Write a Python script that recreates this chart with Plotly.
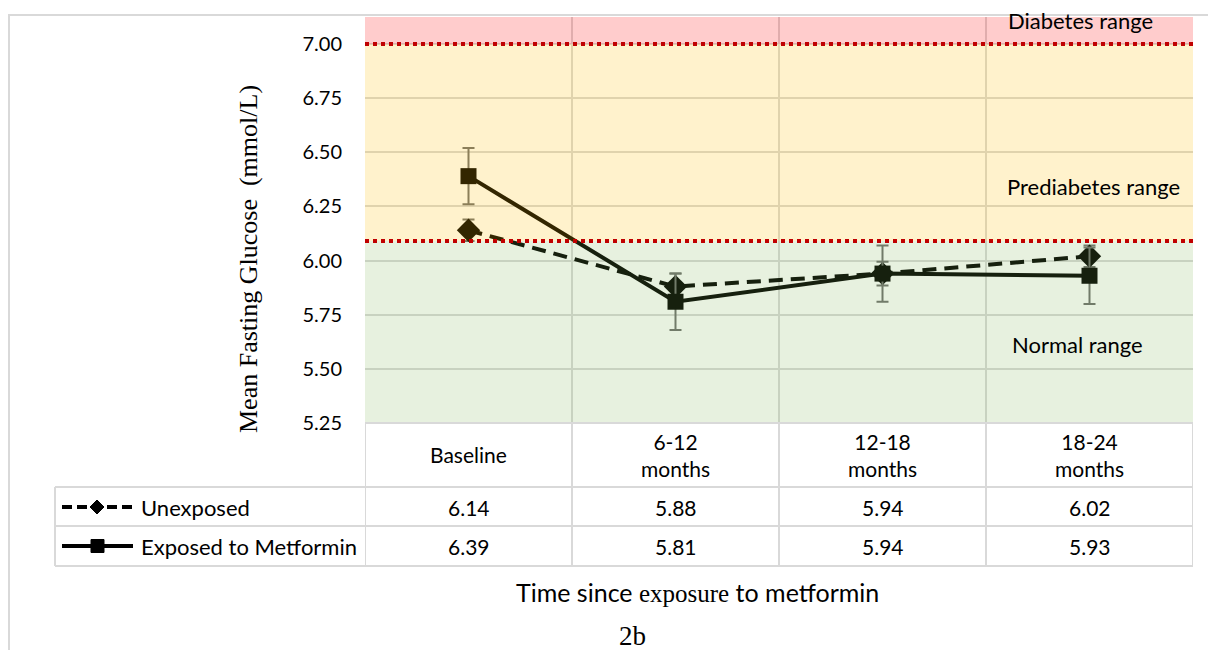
import plotly.graph_objects as go

# ---------------- data ----------------
categories = ["Baseline", "6-12<br>months", "12-18<br>months", "18-24<br>months"]
unexposed = [6.14, 5.88, 5.94, 6.02]
unexposed_err = [0.05, 0.06, 0.055, 0.05]
exposed = [6.39, 5.81, 5.94, 5.93]
exposed_err = [0.13, 0.13, 0.13, 0.13]
series_names = ["Unexposed", "Exposed to Metformin"]
y_ticks = [5.25, 5.50, 5.75, 6.00, 6.25, 6.50, 6.75, 7.00]
prediabetes_min = 6.09
diabetes_min = 7.00
y_top = 7.125

SANS = "Lato, Calibri, Carlito, sans-serif"
SERIF = "Liberation Serif, Times New Roman, serif"
GRID = "#d9d9d9"

# figure geometry (pixels)
W, H = 1208, 650
L, R, T, B = 365, 15, 17, 227
pw, ph = W - L - R, H - T - B


def px(x):
    return (x - L) / pw


def py(y):
    return (H - B - y) / ph


xs = [i + 0.5 for i in range(len(categories))]

fig = go.Figure()
fig.add_trace(go.Scatter(
    x=xs, y=unexposed, name=series_names[0], mode="lines+markers",
    line=dict(color="black", width=4, dash="14px,8px"),
    marker=dict(symbol="diamond", size=18, color="black"),
    error_y=dict(type="data", array=unexposed_err, color="#707070", thickness=2, width=6),
    showlegend=False,
))
fig.add_trace(go.Scatter(
    x=xs, y=exposed, name=series_names[1], mode="lines+markers",
    line=dict(color="black", width=4),
    marker=dict(symbol="square", size=16, color="black"),
    error_y=dict(type="data", array=exposed_err, color="#707070", thickness=2, width=6),
    showlegend=False,
))

shapes = []
# translucent range bands over everything
shapes.append(dict(type="rect", xref="x", yref="y", x0=0, x1=4, y0=diabetes_min, y1=y_top,
                   fillcolor="rgba(255,0,0,0.2)", line_width=0, layer="above"))
shapes.append(dict(type="rect", xref="x", yref="y", x0=0, x1=4, y0=prediabetes_min, y1=diabetes_min,
                   fillcolor="rgba(255,192,0,0.2)", line_width=0, layer="above"))
shapes.append(dict(type="rect", xref="x", yref="y", x0=0, x1=4, y0=5.25, y1=prediabetes_min,
                   fillcolor="rgba(120,180,80,0.18)", line_width=0, layer="above"))
# red dotted thresholds
for yv in (diabetes_min, prediabetes_min):
    shapes.append(dict(type="line", xref="x", yref="y", x0=0, x1=4, y0=yv, y1=yv,
                       line=dict(color="#C00000", width=4, dash="dot"), layer="above"))

# data table lines
row_y = [423, 487, 526, 566]
shapes.append(dict(type="line", xref="paper", yref="paper", x0=0, x1=1, y0=py(423), y1=py(423),
                   line=dict(color=GRID, width=2)))
for yy in row_y[1:]:
    shapes.append(dict(type="line", xref="paper", yref="paper", x0=px(55), x1=1, y0=py(yy), y1=py(yy),
                       line=dict(color=GRID, width=2)))
for i in range(len(categories) + 1):
    shapes.append(dict(type="line", xref="x", yref="paper", x0=i, x1=i, y0=py(423), y1=py(566),
                       line=dict(color=GRID, width=2)))
shapes.append(dict(type="line", xref="paper", yref="paper", x0=px(55), x1=px(55), y0=py(487), y1=py(566),
                   line=dict(color=GRID, width=2)))
# outer frame (top & left)
shapes.append(dict(type="line", xref="paper", yref="paper", x0=px(8), x1=px(1208), y0=py(15), y1=py(15),
                   line=dict(color=GRID, width=2)))
shapes.append(dict(type="line", xref="paper", yref="paper", x0=px(9), x1=px(9), y0=py(15), y1=py(650),
                   line=dict(color=GRID, width=2)))

# legend samples in table
leg_rows = [507, 546]
shapes.append(dict(type="line", xref="paper", yref="paper", x0=px(62), x1=px(133),
                   y0=py(leg_rows[0]), y1=py(leg_rows[0]),
                   line=dict(color="black", width=4, dash="10px,5px")))
shapes.append(dict(type="path", xref="paper", yref="paper",
                   path=f"M {px(90)} {py(leg_rows[0])} L {px(97)} {py(leg_rows[0]-7)} "
                        f"L {px(104)} {py(leg_rows[0])} L {px(97)} {py(leg_rows[0]+7)} Z",
                   fillcolor="black", line=dict(color="black", width=1)))
shapes.append(dict(type="line", xref="paper", yref="paper", x0=px(62), x1=px(133),
                   y0=py(leg_rows[1]), y1=py(leg_rows[1]),
                   line=dict(color="black", width=4)))
shapes.append(dict(type="rect", xref="paper", yref="paper", x0=px(91), x1=px(104),
                   y0=py(leg_rows[1] + 6.5), y1=py(leg_rows[1] - 6.5),
                   fillcolor="black", line=dict(color="black", width=1)))


def note(text, x, y, size, family=SANS, xref="paper", xanchor="center", **kw):
    return dict(text=text, x=x, y=y, xref=xref, yref="paper", xanchor=xanchor, yanchor="middle",
                showarrow=False, font=dict(family=family, size=size, color="black"), **kw)


ann = []
# range labels
ann.append(note("Diabetes range", px(1080), py(21), 22))
ann.append(note("Prediabetes range", px(1093), py(186), 22))
ann.append(note("Normal range", px(1077), py(344), 22))
# table header and values
for i, c in enumerate(categories):
    ann.append(note(c, xs[i], py(455), 21, xref="x"))
    ann.append(note(f"{unexposed[i]:.2f}", xs[i], py(leg_rows[0]), 21, xref="x"))
    ann.append(note(f"{exposed[i]:.2f}", xs[i], py(leg_rows[1]), 21, xref="x"))
for j, name in enumerate(series_names):
    ann.append(note(name, px(139), py(leg_rows[j]), 22, xanchor="left"))
# axis titles
ann.append(note("Mean Fasting Glucose  (mmol/L)", px(248), py(259), 26, family=SERIF, textangle=-90))
ann.append(note(f'Time since <span style="font-family:{SERIF}">exposure</span> to metformin',
                px(697), py(592), 25))
ann.append(note("2b", px(632), py(636), 27, family=SERIF))

fig.update_layout(
    width=W, height=H,
    margin=dict(l=L, r=R, t=T, b=B, pad=0),
    paper_bgcolor="white", plot_bgcolor="white",
    shapes=shapes, annotations=ann,
    xaxis=dict(range=[0, 4], tickvals=[0, 1, 2, 3, 4], showticklabels=False, showgrid=True,
               gridcolor=GRID, gridwidth=2, zeroline=False, showline=False, fixedrange=True),
    yaxis=dict(range=[5.25, y_top], tickvals=y_ticks, tickformat=".2f", showgrid=True,
               gridcolor=GRID, gridwidth=2, zeroline=False, showline=False,
               ticks="", ticklabelstandoff=22,
               tickfont=dict(family=SANS, size=20, color="black")),
    showlegend=False,
)

fig.write_html("out.html")
